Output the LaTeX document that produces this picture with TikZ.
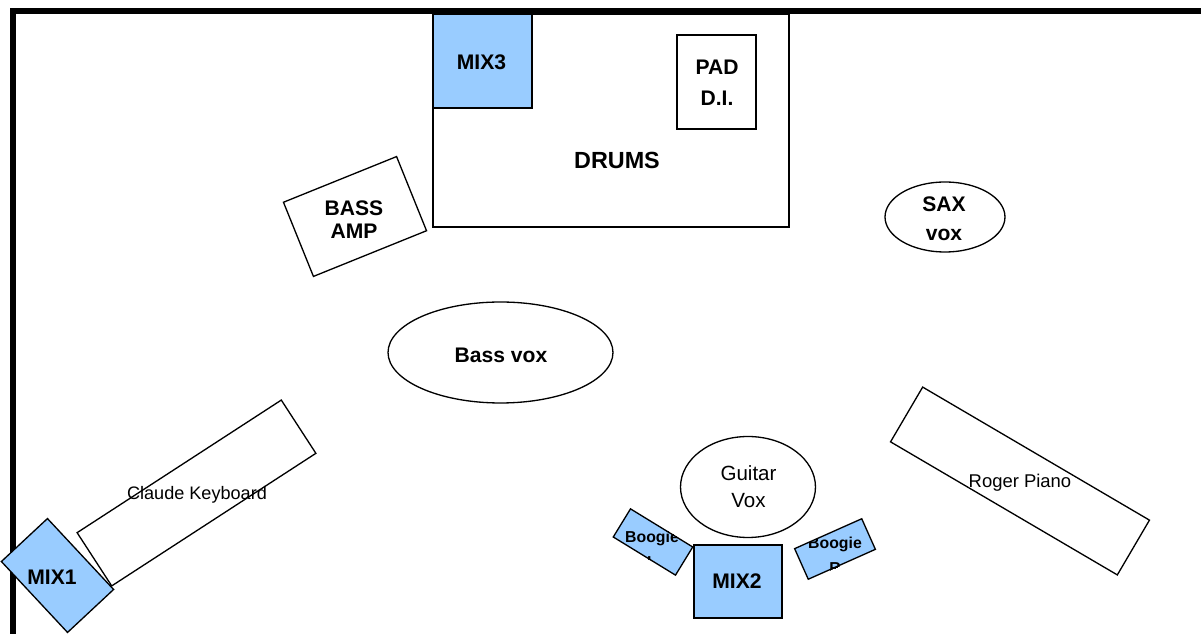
\documentclass[tikz,border=0pt]{standalone}
\usepackage{fontspec}
\setmainfont{Liberation Sans}
\usetikzlibrary{shapes.geometric}
\definecolor{MixBlue}{HTML}{99CCFF}
\definecolor{Wall}{HTML}{000000}
\definecolor{Outline}{HTML}{000000}

\begin{document}
\begin{tikzpicture}[x=0.02cm,y=-0.02cm,box/.style={draw=Outline, line width=0.75pt, inner sep=0pt, rectangle},mixbox/.style={box, fill=MixBlue},oval/.style={draw=Outline, line width=0.75pt, inner sep=0pt, ellipse},boldtext/.style={font=\bfseries\fontsize{12}{14}\selectfont, align=center, inner sep=0pt},plaintext/.style={font=\fontsize{10.3}{12}\selectfont, align=center, inner sep=0pt},smallbold/.style={font=\bfseries\fontsize{9}{14}\selectfont, align=center, inner sep=0pt},wall/.style={draw=Wall, line width=3.4pt}]
\useasboundingbox (0,0) rectangle (1201,634);
\fill[white] (0,0) rectangle (1201,634);
\coordinate (wallbottom) at (13,650);
\coordinate (wallcorner) at (13,11);
\coordinate (wallright) at (1220,11);
\draw[wall] (wallbottom) -- (wallcorner) -- (wallright);
\node[box, minimum width=7.12cm, minimum height=4.26cm] (drums) at (611,120.5) {};
\node[mixbox, minimum width=1.98cm, minimum height=1.88cm] (mix3) at (482.5,61) {};
\node[boldtext] (mix3text) at (481.5,62) {MIX3};
\node[box, minimum width=1.58cm, minimum height=1.88cm] (pad) at (716.5,82) {};
\node[boldtext] (padtext) at (717,83) {PAD\\[3.6pt]D.I.};
\node[boldtext, font=\bfseries\fontsize{13.3}{16}\selectfont] (drumstext) at (617,160) {DRUMS};
\node[box, minimum width=2.44cm, minimum height=1.6cm, rotate=22] (bassamp) at (355,216.5) {};
\node[boldtext] (bassamptext) at (354,219.5) {BASS\\[-1pt]AMP};
\node[oval, minimum width=2.4cm, minimum height=1.4cm] (sax) at (945,217) {};
\node[boldtext] (saxtext) at (944,219) {SAX\\[2.4pt]vox};
\node[oval, minimum width=4.5cm, minimum height=2.02cm] (bassvox) at (500.5,352.5) {};
\node[boldtext] (bassvoxtext) at (501,355) {Bass vox};
\node[box, minimum width=4.87cm, minimum height=1.27cm, rotate=33] (keyboard) at (196.5,493) {};
\node[plaintext] (keyboardtext) at (197,495) {Claude Keyboard};
\node[box, minimum width=5.26cm, minimum height=1.27cm, rotate=-30.4] (piano) at (1020,481) {};
\node[plaintext, font=\fontsize{10.5}{12}\selectfont] (pianotext) at (1020,483) {Roger Piano};
\node[oval, minimum width=2.7cm, minimum height=2.02cm] (guitarvox) at (748,487) {};
\node[plaintext, font=\fontsize{11.7}{14}\selectfont] (guitarvoxtext) at (748.5,487) {Guitar\\[1.3pt]Vox};
\node[mixbox, minimum width=1.76cm, minimum height=1.46cm] (mix2) at (738,581.5) {};
\node[boldtext] (mix2text) at (737,581) {MIX2};
\node[mixbox, minimum width=1.46cm, minimum height=0.66cm, rotate=-31.5] (boogiel) at (653,542) {};
\begin{scope}
\clip (boogiel.north west) -- (boogiel.north east) -- (boogiel.south east) -- (boogiel.south west) -- cycle;
\node[smallbold] (boogieltext) at (652,549) {Boogie\\L};
\end{scope}
\node[mixbox, minimum width=1.47cm, minimum height=0.67cm, rotate=24] (boogier) at (835,549) {};
\begin{scope}
\clip (boogier.north west) -- (boogier.north east) -- (boogier.south east) -- (boogier.south west) -- cycle;
\node[smallbold] (boogiertext) at (835,555) {Boogie\\R};
\end{scope}
\node[mixbox, minimum width=1.94cm, minimum height=1.26cm, rotate=-47] (mix1) at (57.5,575.5) {};
\node[boldtext] (mix1text) at (52,577) {MIX1};
\end{tikzpicture}
\end{document}
